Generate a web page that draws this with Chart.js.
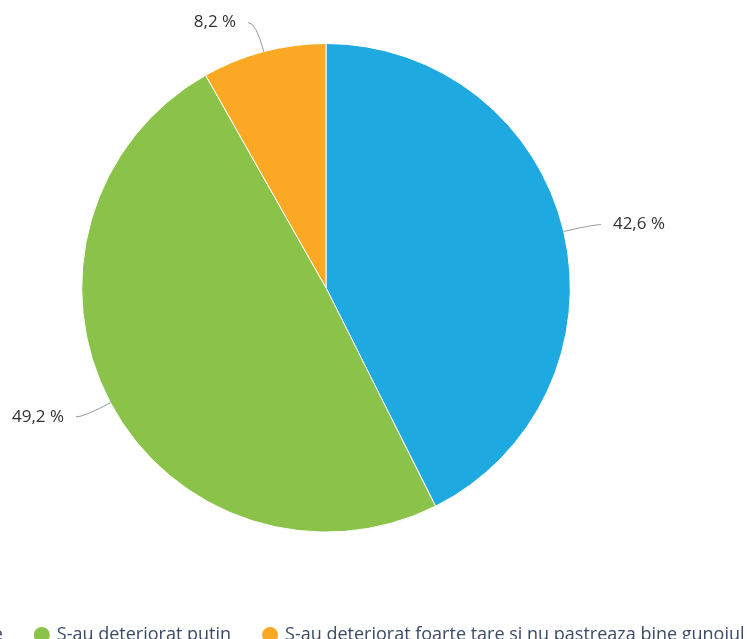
<!DOCTYPE html>
<html>
<head>
<meta charset="utf-8">
<script src="https://cdn.jsdelivr.net/npm/chart.js@4/dist/chart.umd.min.js"></script>
<style>
  html, body { margin: 0; padding: 0; background: #fff; overflow: hidden; }
  #wrap { position: absolute; left: -150px; top: 0; width: 952px; height: 654px; }
</style>
</head>
<body>
<div id="wrap"><canvas id="pie"></canvas></div>
<script>
const labels = [
  "Neatinse",
  "S-au deteriorat putin",
  "S-au deteriorat foarte tare si nu pastreaza bine gunoiul"
];
const values = [42.6, 49.2, 8.2];
const colors = ["#1fa9e1", "#8bc34a", "#fba924"];

// labels outside with little connector lines
const outLabels = {
  id: "outLabels",
  afterDatasetsDraw(chart) {
    const ctx = chart.ctx;
    const meta = chart.getDatasetMeta(0);
    ctx.save();
    ctx.font = "17px 'Open Sans'";
    ctx.textBaseline = "middle";
    meta.data.forEach(function (arc, i) {
      const a = (arc.startAngle + arc.endAngle) / 2;
      const R = arc.outerRadius;
      const cx = arc.x, cy = arc.y;
      const dx = Math.cos(a), dy = Math.sin(a);
      const p0 = { x: cx + R * dx, y: cy + R * dy };
      const p1 = { x: cx + (R + 30) * dx, y: cy + (R + 30) * dy };
      const right = dx >= 0;
      const p2 = { x: p1.x + (right ? 8 : -8), y: p1.y };
      ctx.strokeStyle = "#999";
      ctx.lineWidth = 1;
      ctx.beginPath();
      ctx.moveTo(p0.x, p0.y);
      ctx.quadraticCurveTo(p1.x, p1.y, p2.x, p2.y);
      ctx.stroke();
      ctx.fillStyle = "#333";
      ctx.textAlign = right ? "left" : "right";
      const txt = values[i].toFixed(1).replace(".", ",") + " %";
      ctx.fillText(txt, p2.x + (right ? 12 : -12), p2.y);
    });
    ctx.restore();
  }
};

const ctx = document.getElementById("pie").getContext("2d");
const chart = new Chart(ctx, {
  type: "pie",
  data: {
    labels: labels,
    datasets: [{
      data: values,
      backgroundColor: colors,
      borderColor: "#fff",
      borderWidth: 1
    }]
  },
  options: {
    responsive: true,
    maintainAspectRatio: false,
    animation: false,
    layout: { padding: { top: 43 } },
    plugins: {
      tooltip: { enabled: false },
      legend: {
        position: "bottom",
        title: { display: true, text: " ", padding: { top: 0, bottom: 46 } },
        labels: {
          usePointStyle: true,
          pointStyle: "circle",
          boxWidth: 12,
          boxHeight: 12,
          padding: 33,
          color: "#3d4b66",
          font: { family: "'Open Sans'", size: 18 }
        }
      }
    }
  },
  plugins: [outLabels]
});
</script>
</body>
</html>
